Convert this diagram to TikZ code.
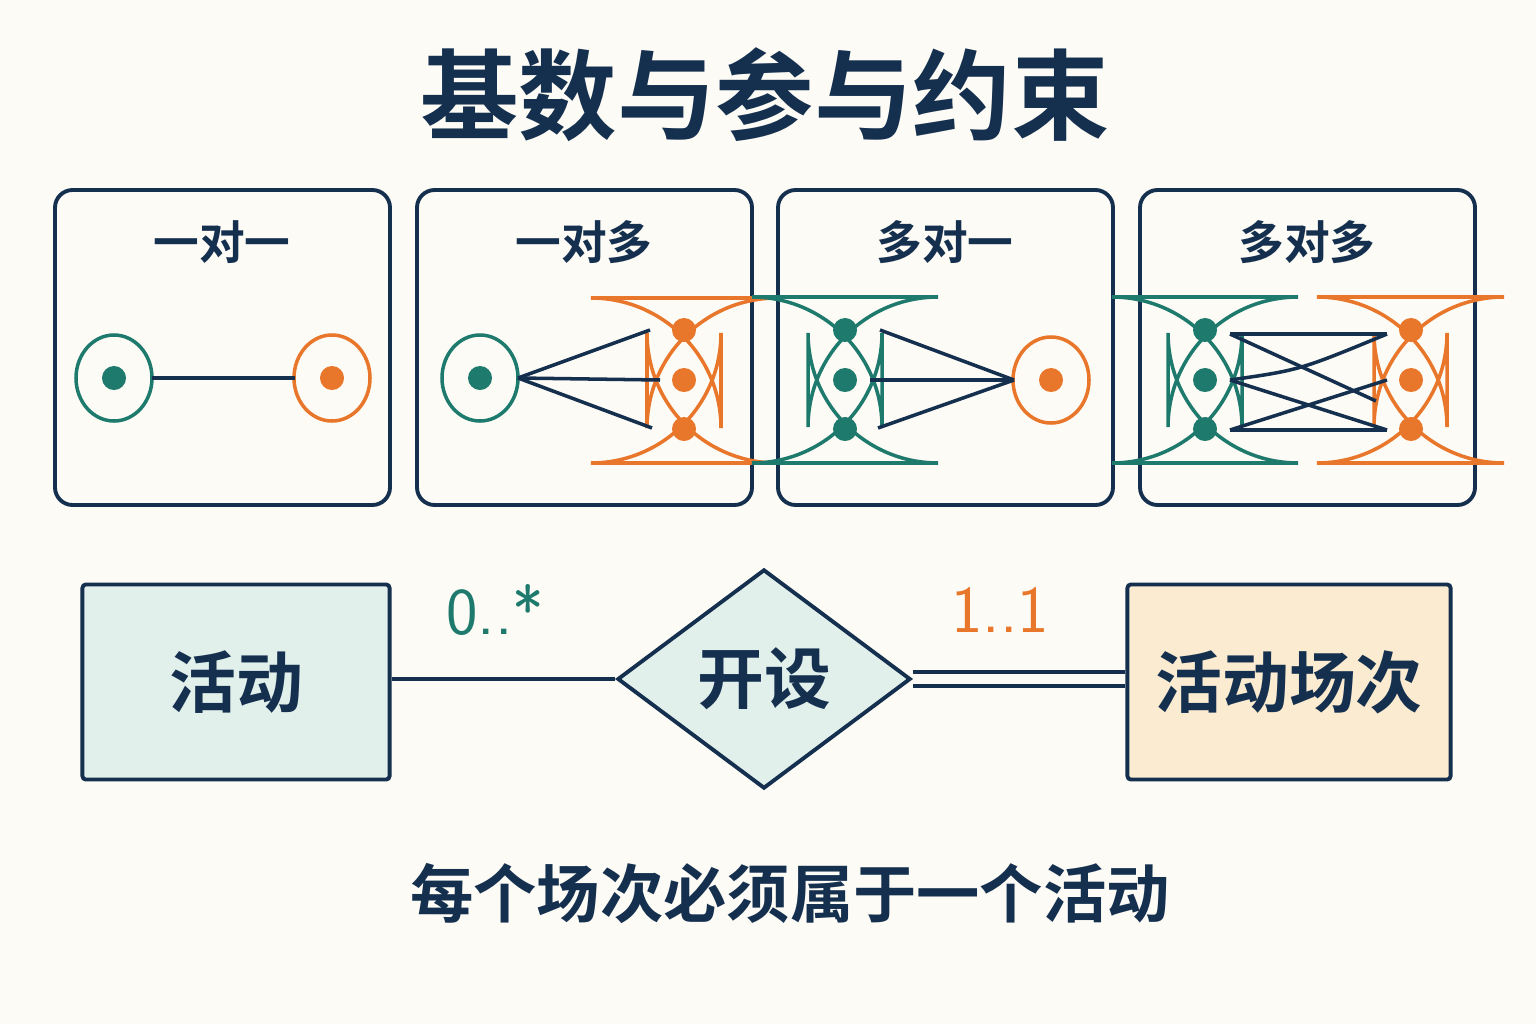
\documentclass[tikz,border=0pt]{standalone}
\usepackage{fontspec}
\setmainfont{Noto Sans CJK SC}
\newfontfamily\cjkbold{Noto Sans CJK SC Bold}
\usetikzlibrary{shapes.geometric,positioning}
\definecolor{bgcream}{HTML}{FDFBF5}
\definecolor{navy}{HTML}{15304F}
\definecolor{tealc}{HTML}{1F7A6E}
\definecolor{orangec}{HTML}{E8762B}
\definecolor{tealfill}{HTML}{E2F0EB}
\definecolor{orangefill}{HTML}{FBEBD0}
\tikzset{
  panel/.style={draw=navy, line width=1.1pt, rounded corners=5pt},
  tdot/.style={circle, fill=tealc, inner sep=0pt, minimum size=0.24cm},
  odot/.style={circle, fill=orangec, inner sep=0pt, minimum size=0.24cm},
  tset/.style={draw=tealc, line width=1pt},
  oset/.style={draw=orangec, line width=1pt},
  link/.style={draw=navy, line width=1pt},
  plabel/.style={text=navy, font=\cjkbold\fontsize{13}{13}\selectfont},
  entity/.style={draw=navy, line width=1.1pt, rounded corners=1pt, font=\cjkbold\fontsize{19}{19}\selectfont, text=navy}
}
\begin{document}
\begin{tikzpicture}[x=0.01cm,y=-0.01cm]
% background
\fill[bgcream] (0,0) rectangle (1536,1024);
\useasboundingbox (0,0) rectangle (1536,1024);

% title
\node[text=navy, font=\cjkbold\fontsize{28}{28}\selectfont] (title) at (765,95) {基数与参与约束};

% panels
\foreach \x/\t [count=\i] in {55/一对一, 417/一对多, 778/多对一, 1140/多对多} {
  \draw[panel] (\x,190) rectangle ++(335,315);
  \node[plabel] (lab\i) at (\x+167,242) {\t};
}

% one to one
\draw[tset] (114,378) ellipse (38 and 43);
\draw[oset] (332,378) ellipse (38 and 43);
\node[tdot] (a1) at (114,378) {};
\node[odot] (b1) at (332,378) {};
\draw[link] (152,378) -- (295,378);

% one to many
\draw[tset] (480,378) ellipse (38 and 43);
\draw[oset, rounded corners=37] (647,298) rectangle (721,463);
\node[tdot] (a2) at (480,378) {};
\foreach \y [count=\j] in {330,380,429} \node[odot] (b2\j) at (684,\y) {};
\coordinate (s2) at (518,378);
\draw[link] (s2) -- (650,330);
\draw[link] (s2) -- (660,380);
\draw[link] (s2) -- (652,428);

% many to one
\draw[tset, rounded corners=37] (808,297) rectangle (882,463);
\draw[oset] (1051,380) ellipse (38 and 43);
\foreach \y [count=\j] in {330,380,429} \node[tdot] (a3\j) at (845,\y) {};
\node[odot] (b3) at (1051,380) {};
\coordinate (s3) at (1014,380);
\draw[link] (880,330) -- (s3);
\draw[link] (870,380) -- (s3);
\draw[link] (878,428) -- (s3);

% many to many
\draw[tset, rounded corners=37] (1168,297) rectangle (1242,463);
\draw[oset, rounded corners=37] (1374,297) rectangle (1447,463);
\foreach \y [count=\j] in {330,380,429} {
  \node[tdot] (a4\j) at (1205,\y) {};
  \node[odot] (b4\j) at (1411,\y) {};
}
\draw[link] (1230,334) -- (1387,334);
\draw[link] (1230,334) -- (1376,401);
\draw[link] (1230,380) .. controls (1300,370) .. (1387,334);
\draw[link] (1230,380) -- (1387,430);
\draw[link] (1230,430) -- (1387,380);
\draw[link] (1230,430) -- (1387,430);

% ER part
\node[entity, fill=tealfill, minimum width=3.07cm, minimum height=1.95cm] (act) at (236,682) {活动};
\node[entity, fill=orangefill, minimum width=3.23cm, minimum height=1.95cm] (sess) at (1289,682) {活动场次};
\node[diamond, draw=navy, line width=1.1pt, fill=tealfill, aspect=1.34, minimum width=2.93cm, minimum height=2.19cm, inner sep=0pt, text=navy, font=\cjkbold\fontsize{19}{19}\selectfont] (rel) at (764,679) {开设};
\draw[link] (act.east |- rel) -- (rel.west);
\draw[link] ([yshift=-0.07cm]rel.east) -- ([yshift=-0.07cm]rel.east -| sess.west);
\draw[link] ([yshift=0.07cm]rel.east) -- ([yshift=0.07cm]rel.east -| sess.west);
\node[text=tealc, font=\sffamily\fontsize{19}{19}\selectfont] (m1) at (495,610) {0..*};
\node[text=orangec, font=\sffamily\fontsize{19}{19}\selectfont] (m2) at (1000,610) {1..1};

% caption
\node[text=navy, font=\cjkbold\fontsize{18}{18}\selectfont] (cap) at (790,893) {每个场次必须属于一个活动};
\end{tikzpicture}
\end{document}
